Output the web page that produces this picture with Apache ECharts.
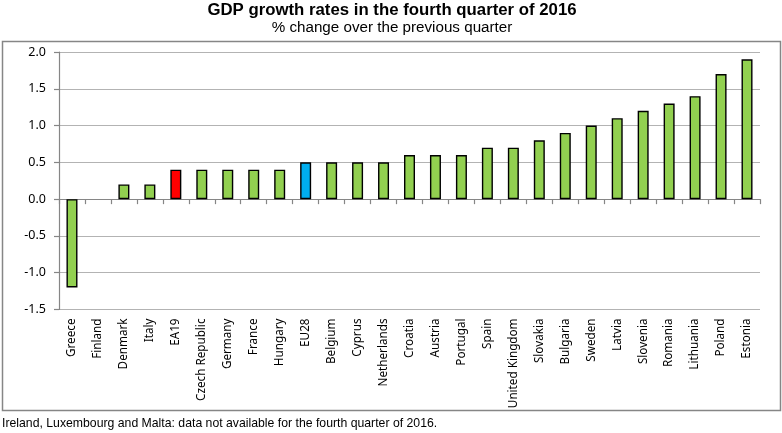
<!DOCTYPE html>
<html>
<head>
<meta charset="utf-8">
<title>GDP growth rates</title>
<script src="https://cdn.jsdelivr.net/npm/echarts@6/dist/echarts.min.js"></script>
<style>
    html, body { margin: 0; padding: 0; background: #fff; }
    #chart { width: 782px; height: 433px; }
</style>
</head>
<body>
<div id="chart"></div>
<script>
const categories = ['Greece', 'Finland', 'Denmark', 'Italy', 'EA19', 'Czech Republic', 'Germany', 'France', 'Hungary',
    'EU28', 'Belgium', 'Cyprus', 'Netherlands', 'Croatia', 'Austria', 'Portugal', 'Spain', 'United Kingdom',
    'Slovakia', 'Bulgaria', 'Sweden', 'Latvia', 'Slovenia', 'Romania', 'Lithuania', 'Poland', 'Estonia'];
const growth = [-1.2, 0, 0.2, 0.2, 0.4, 0.4, 0.4, 0.4, 0.4,
    0.5, 0.5, 0.5, 0.5, 0.6, 0.6, 0.6, 0.7, 0.7,
    0.8, 0.9, 1.0, 1.1, 1.2, 1.3, 1.4, 1.7, 1.9];
const aggregateColors = { EA19: '#ff0000', EU28: '#00aeef' };
const barColor = '#92d050';
const grey = '#868686';
const labelFont = '"Noto Sans"';

const chart = echarts.init(document.getElementById('chart'), null, { renderer: 'canvas' });

chart.setOption({
    animation: false,
    backgroundColor: '#fff',
    title: [
        {
            text: 'GDP growth rates in the fourth quarter of 2016',
            left: 392, top: 1.5, padding: 0, textAlign: 'center',
            textStyle: { fontFamily: 'Liberation Sans', fontSize: 16.8, fontWeight: 'bold', color: '#000' }
        },
        {
            text: '% change over the previous quarter',
            left: 392, top: 20, padding: 0, textAlign: 'center',
            textStyle: { fontFamily: 'Liberation Sans', fontSize: 15.2, fontWeight: 'normal', color: '#000' }
        },
        {
            text: 'Ireland, Luxembourg and Malta: data not available for the fourth quarter of 2016.',
            left: 2, top: 417.5, padding: 0,
            textStyle: { fontFamily: 'Liberation Sans', fontSize: 12.25, fontWeight: 'normal', color: '#000' }
        }
    ],
    graphic: [{
        type: 'rect',
        silent: true,
        z: -1,
        shape: { x: 2.5, y: 41.5, width: 778, height: 369 },
        style: { fill: 'none', stroke: grey, lineWidth: 1.5 }
    }],
    grid: { left: 59, right: 22, top: 52, height: 257.5 },
    xAxis: [
        {
            type: 'category',
            data: categories,
            axisLine: { onZero: true, lineStyle: { color: grey, width: 1.2 } },
            axisTick: { show: true, interval: 0, length: 5, lineStyle: { color: grey, width: 1.2 } },
            axisLabel: { show: false }
        },
        {
            type: 'category',
            position: 'bottom',
            data: categories,
            axisLine: { show: false },
            axisTick: { show: false },
            axisLabel: {
                show: true, interval: 0, rotate: 90, margin: 9,
                fontFamily: labelFont, fontSize: 11.7, color: '#000'
            }
        }
    ],
    yAxis: {
        type: 'value',
        min: -1.5,
        max: 2,
        interval: 0.5,
        axisLine: { show: true, lineStyle: { color: grey, width: 1.2 } },
        axisTick: { show: true, length: 5, lineStyle: { color: grey, width: 1.2 } },
        axisLabel: {
            margin: 13, fontFamily: labelFont, fontSize: 12.5, color: '#000',
            formatter: v => v.toFixed(1)
        },
        splitLine: { show: true, lineStyle: { color: '#b3b3b3', width: 1.2 } }
    },
    series: [{
        type: 'bar',
        xAxisIndex: 0,
        barWidth: 11,
        data: growth.map((v, i) => ({
            value: v,
            itemStyle: {
                color: aggregateColors[categories[i]] || barColor,
                borderColor: '#000',
                borderWidth: v === 0 ? 0 : 1.4
            }
        }))
    }]
});
</script>
</body>
</html>
